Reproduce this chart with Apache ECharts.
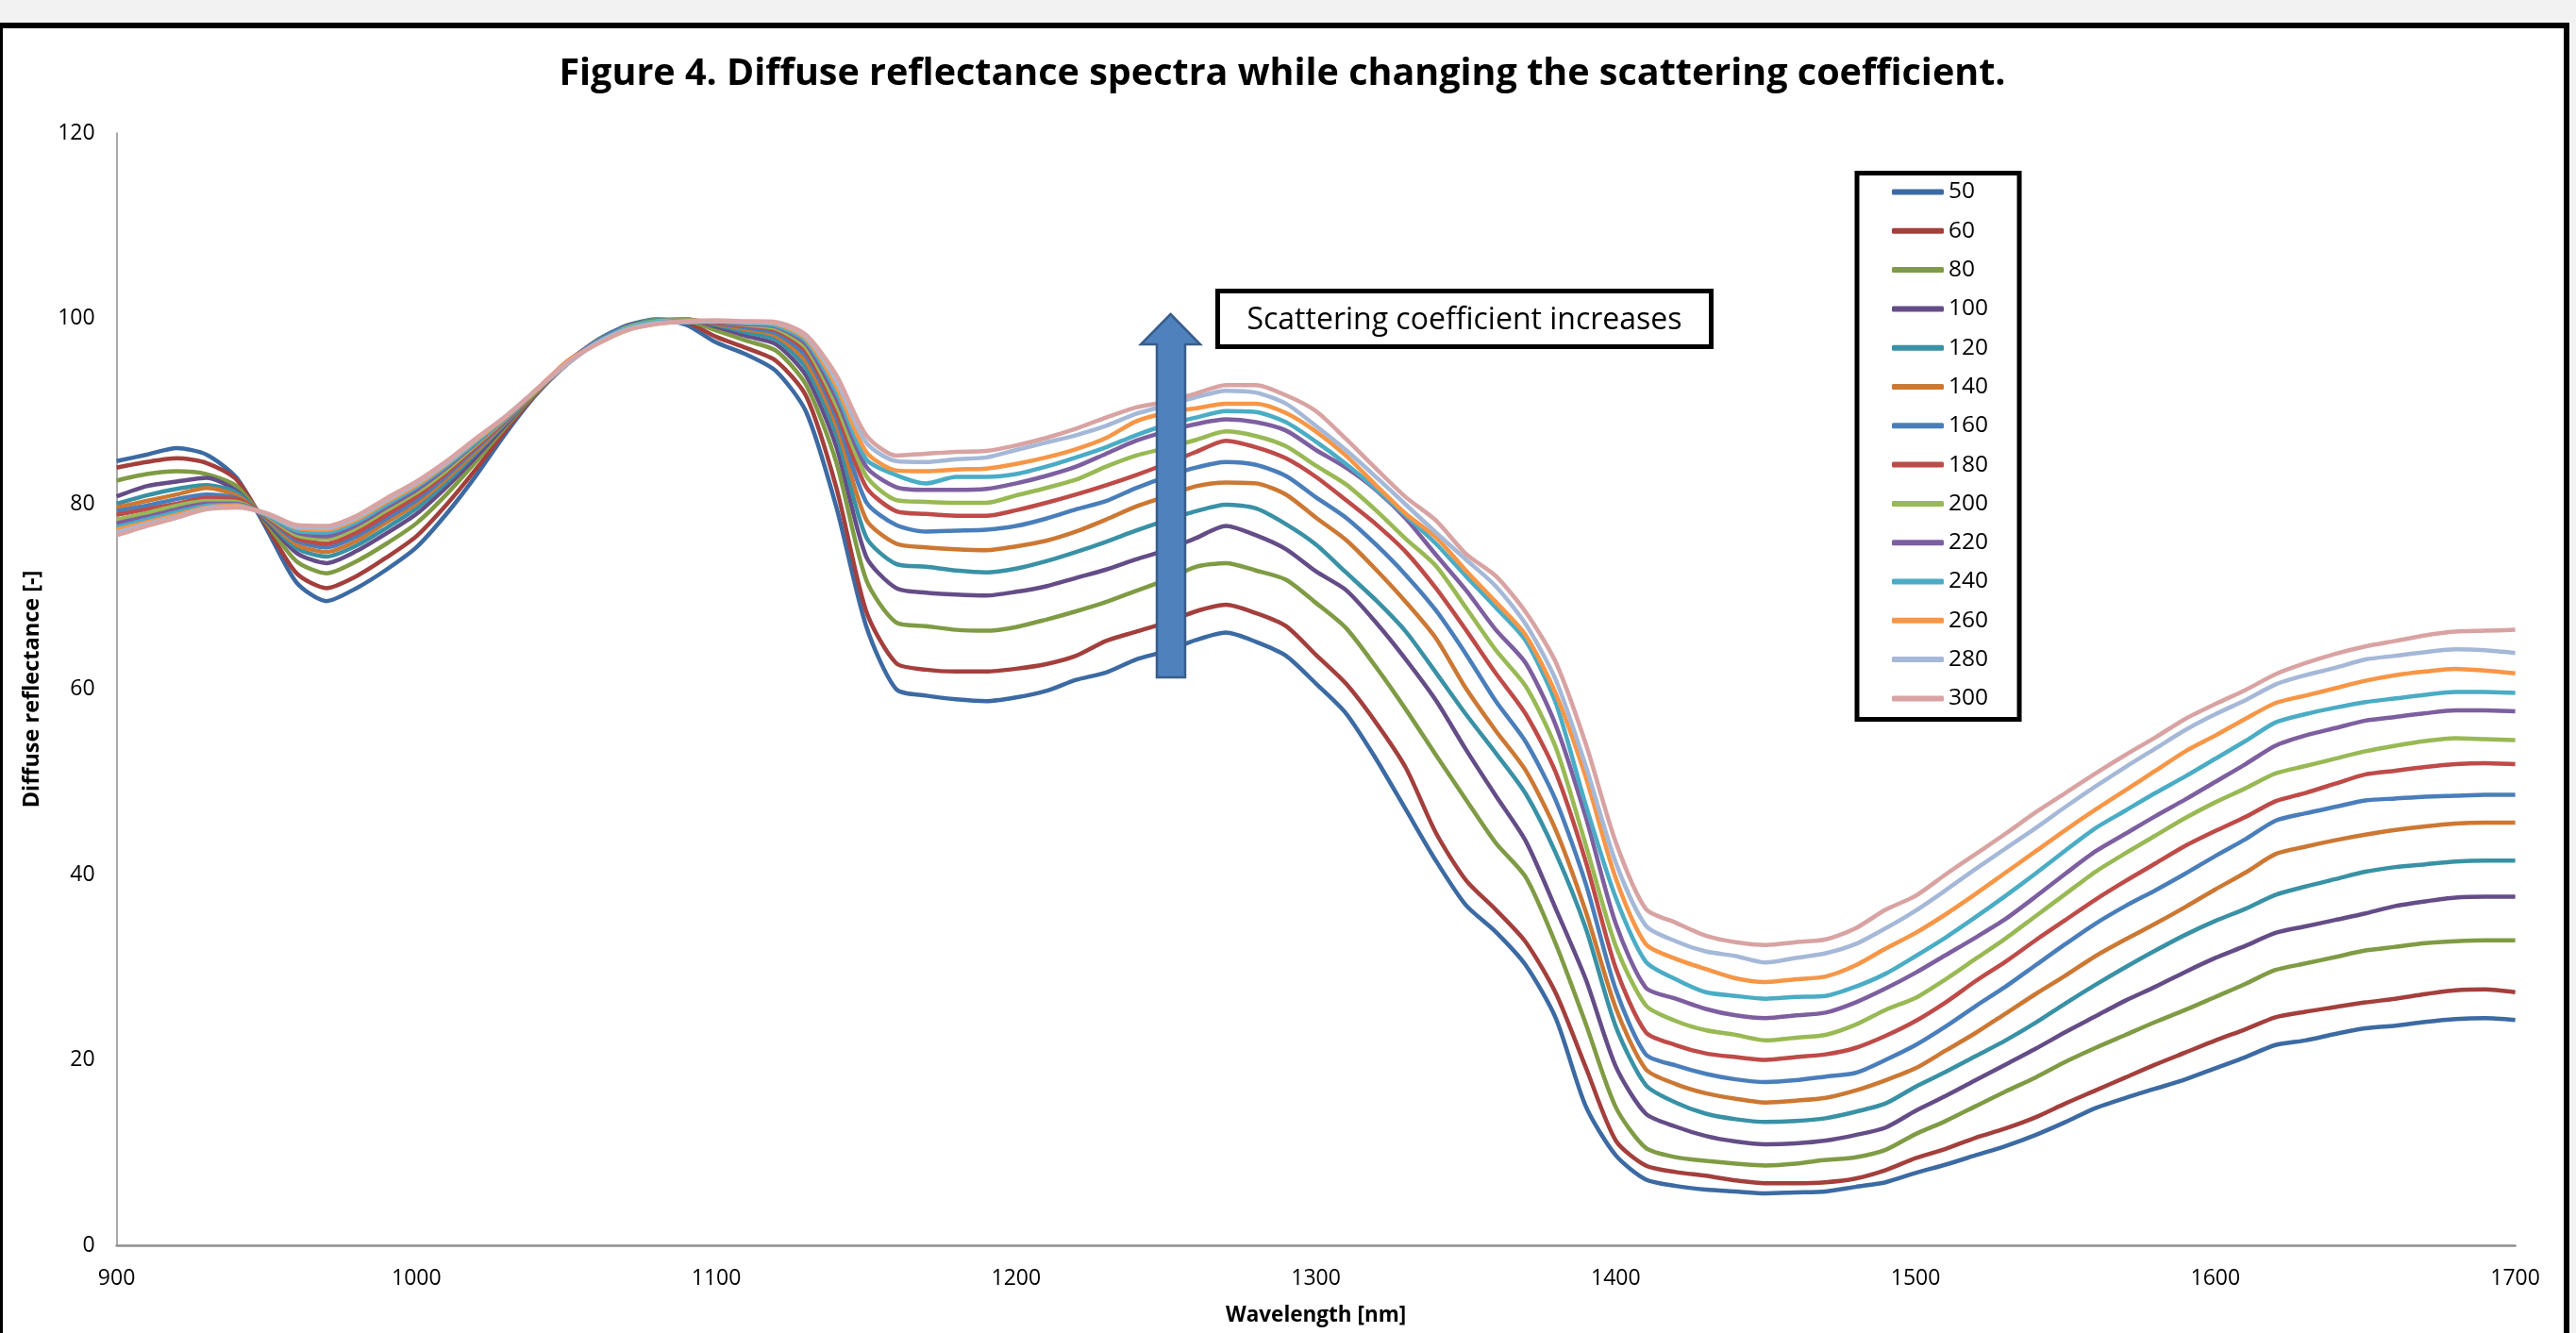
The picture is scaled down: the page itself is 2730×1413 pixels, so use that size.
<!DOCTYPE html>
<html><head><meta charset="utf-8">
<script src="https://cdn.jsdelivr.net/npm/echarts/dist/echarts.min.js"></script>
<style>
html,body{margin:0;padding:0;background:#f2f2f2;width:2730px;height:1413px;overflow:hidden;}
#frame{position:absolute;left:-3px;top:24px;width:2714px;height:1500px;border:6px solid #000;background:#fff;}
#chart{position:absolute;left:0;top:0;width:2730px;height:1413px;}
</style></head><body>
<div id="frame"></div><div id="chart"></div>
<script>
const wavelengths = [900,910,920,930,940,950,960,970,980,990,
1000,1010,1020,1030,1040,1050,1060,1070,1080,1090,
1100,1110,1120,1130,1140,1150,1160,1170,1180,1190,
1200,1210,1220,1230,1240,1250,1260,1270,1280,1290,
1300,1310,1320,1330,1340,1350,1360,1370,1380,1390,
1400,1410,1420,1430,1440,1450,1460,1470,1480,1490,
1500,1510,1520,1530,1540,1550,1560,1570,1580,1590,
1600,1610,1620,1630,1640,1650,1660,1670,1680,1690,1700];

const seriesNames = ['50','60','80','100','120','140','160','180','200','220','240','260','280','300'];

const s50 = [84.6,85.3,86.0,85.3,82.8,77.3,71.5,69.5,70.9,72.9,
75.3,78.9,83.1,87.7,91.8,95.0,97.6,99.2,99.9,99.3,
97.4,96.1,94.3,89.9,79.7,66.8,60.0,59.3,58.9,58.7,
59.1,59.8,61.0,61.8,63.2,64.1,65.3,66.1,65.1,63.6,
60.6,57.4,52.5,47.0,41.5,36.7,33.8,30.2,24.5,15.0,
9.7,7.1,6.4,6.0,5.8,5.6,5.7,5.8,6.3,6.8,
7.8,8.7,9.7,10.7,11.9,13.3,14.8,15.9,16.9,17.9,
19.1,20.3,21.6,22.1,22.8,23.4,23.7,24.1,24.4,24.5,24.3];
const s60 = [83.9,84.5,84.9,84.4,82.6,77.6,72.5,70.9,72.2,74.2,
76.5,79.9,83.8,88.0,91.9,95.1,97.5,99.1,99.8,99.6,
98.0,96.8,95.4,91.6,81.8,68.4,62.8,62.1,61.9,61.9,
62.2,62.7,63.6,65.2,66.2,67.2,68.4,69.1,68.2,66.8,
63.7,60.6,56.4,51.5,44.5,39.4,36.2,32.7,27.2,19.2,
11.3,8.6,7.9,7.5,7.0,6.7,6.7,6.8,7.2,8.1,
9.4,10.4,11.6,12.6,13.8,15.3,16.7,18.1,19.5,20.8,
22.1,23.3,24.6,25.2,25.7,26.2,26.6,27.1,27.5,27.6,27.3];
const s80 = [82.5,83.2,83.5,83.2,81.9,77.9,73.8,72.5,73.8,75.7,
77.9,81.0,84.6,88.4,92.0,95.0,97.6,99.0,99.9,99.8,
98.7,97.6,96.5,92.8,84.5,71.8,67.2,66.8,66.4,66.3,
66.7,67.5,68.4,69.4,70.6,71.8,73.2,73.6,72.8,71.8,
69.3,66.6,62.4,57.8,52.9,48.1,43.4,39.7,32.5,23.9,
14.9,10.5,9.5,9.1,8.8,8.6,8.8,9.2,9.5,10.3,
12.0,13.4,15.0,16.6,18.1,19.8,21.3,22.7,24.1,25.4,
26.8,28.2,29.7,30.4,31.1,31.8,32.2,32.6,32.8,32.9,32.9];
const s100 = [80.8,81.9,82.4,82.8,81.4,78.1,74.7,73.6,74.9,76.8,
78.9,81.8,85.1,88.6,92.1,95.2,97.4,99.2,99.7,99.9,
99.1,98.1,97.2,93.8,86.2,74.3,70.9,70.4,70.2,70.1,
70.5,71.1,72.0,72.9,74.0,75.0,76.3,77.6,76.6,75.1,
72.7,70.7,67.2,63.2,58.8,53.5,48.5,43.6,36.3,28.7,
19.3,14.2,12.8,11.8,11.2,10.9,11.0,11.3,11.9,12.7,
14.5,16.1,17.8,19.5,21.2,23.0,24.7,26.4,27.9,29.5,
31.0,32.3,33.7,34.4,35.1,35.8,36.6,37.1,37.5,37.6,37.6];
const s120 = [80.0,80.9,81.6,82.0,81.2,78.3,75.2,74.3,75.5,77.4,
79.5,82.3,85.5,88.8,92.1,95.1,97.5,99.0,99.8,99.8,
99.3,98.5,97.7,94.6,87.5,76.4,73.5,73.2,72.8,72.6,
73.0,73.8,74.8,75.9,77.1,78.2,79.2,79.9,79.5,77.8,
75.6,72.6,69.6,66.2,61.8,57.3,53.1,48.7,42.3,34.2,
23.6,17.3,15.4,14.2,13.6,13.3,13.4,13.7,14.4,15.3,
17.1,18.7,20.4,22.1,24.0,26.1,28.1,30.0,31.8,33.5,
35.0,36.3,37.8,38.7,39.5,40.3,40.8,41.1,41.4,41.5,41.5];
const s140 = [79.6,80.3,81.0,81.7,80.9,78.4,75.6,74.8,76.0,78.0,
80.0,82.7,85.7,88.9,92.1,95.3,97.3,98.9,99.6,99.9,
99.4,98.8,98.1,95.3,88.5,78.3,75.7,75.3,75.1,75.0,
75.4,76.0,77.0,78.3,79.7,80.8,81.9,82.3,82.2,81.0,
78.5,76.1,72.9,69.4,65.5,60.1,55.5,51.2,44.8,36.0,
25.6,19.0,17.4,16.4,15.8,15.4,15.6,15.9,16.7,17.8,
19.1,21.0,22.9,25.0,27.1,29.1,31.2,33.0,34.7,36.5,
38.4,40.2,42.2,43.0,43.7,44.3,44.8,45.2,45.5,45.6,45.6];
const s160 = [79.2,79.8,80.5,81.0,80.6,78.5,76.0,75.3,76.5,78.4,
80.4,83.0,86.0,89.0,92.2,95.2,97.5,99.1,99.7,99.8,
99.5,99.0,98.4,95.9,89.3,80.2,77.7,77.0,77.1,77.2,
77.6,78.4,79.4,80.3,81.7,82.9,83.9,84.5,84.2,83.0,
80.7,78.5,75.6,72.3,68.5,63.8,58.7,54.3,48.0,39.0,
27.6,20.6,19.4,18.5,17.9,17.6,17.8,18.2,18.6,20.0,
21.6,23.6,25.8,27.9,30.2,32.5,34.7,36.6,38.3,40.1,
42.0,43.8,45.8,46.6,47.3,48.0,48.2,48.4,48.5,48.6,48.6];
const s180 = [78.8,79.4,80.0,80.6,80.5,78.6,76.3,75.7,76.9,78.8,
80.8,83.3,86.2,89.1,92.2,95.0,97.4,98.9,99.6,99.7,
99.5,99.2,98.7,96.4,90.0,81.8,79.2,78.9,78.7,78.7,
79.3,80.1,81.0,82.0,83.1,84.3,85.6,86.8,86.1,84.9,
82.9,80.4,77.8,74.8,70.9,66.4,61.7,57.3,51.0,41.4,
29.9,23.0,21.6,20.7,20.3,20.0,20.3,20.6,21.3,22.6,
24.2,26.2,28.5,30.6,32.9,35.1,37.3,39.3,41.2,43.1,
44.7,46.2,47.9,48.8,49.8,50.8,51.2,51.6,51.9,52.0,51.9];
const s200 = [78.3,79.0,79.8,80.3,80.2,78.7,76.6,76.2,77.4,79.3,
81.2,83.6,86.4,89.2,92.2,95.3,97.3,99.0,99.7,99.8,
99.6,99.3,98.9,96.8,90.7,83.0,80.4,80.2,80.1,80.1,
80.9,81.7,82.6,84.0,85.2,86.0,86.9,87.8,87.3,86.2,
84.1,82.1,79.3,76.2,73.3,68.8,64.2,60.3,53.7,43.2,
32.3,25.9,24.2,23.2,22.7,22.1,22.4,22.7,23.8,25.4,
26.7,28.7,30.9,33.1,35.5,37.9,40.3,42.3,44.2,46.1,
47.8,49.3,50.9,51.7,52.5,53.3,53.9,54.4,54.7,54.6,54.5];
const s220 = [77.9,78.6,79.4,80.0,80.0,78.8,76.9,76.5,77.7,79.6,
81.5,83.9,86.6,89.3,92.3,95.2,97.5,98.8,99.5,99.7,
99.6,99.4,99.1,97.2,91.4,84.0,81.8,81.5,81.5,81.6,
82.2,83.0,84.0,85.4,86.8,87.8,88.6,89.1,88.8,87.9,
85.8,83.9,81.5,78.4,74.5,70.7,66.4,62.8,56.1,46.2,
34.7,27.8,26.6,25.5,24.8,24.5,24.8,25.1,26.2,27.7,
29.4,31.3,33.2,35.2,37.6,40.1,42.5,44.4,46.3,48.1,
50.0,51.9,53.9,55.0,55.8,56.6,57.0,57.4,57.7,57.7,57.6];
const s240 = [77.5,78.3,79.1,79.8,79.9,78.8,77.1,76.9,78.0,79.9,
81.8,84.1,86.7,89.3,92.3,95.1,97.4,98.9,99.6,99.6,
99.7,99.5,99.2,97.5,92.1,84.8,83.1,82.2,82.9,82.9,
83.2,84.0,85.0,86.1,87.4,88.5,89.3,90.0,89.9,88.8,
86.7,84.3,81.6,78.7,75.7,72.2,68.8,65.2,58.5,47.5,
37.5,30.6,28.7,27.3,26.9,26.6,26.8,26.9,27.9,29.3,
31.2,33.2,35.4,37.7,40.1,42.6,45.0,46.9,48.8,50.6,
52.5,54.4,56.4,57.3,58.0,58.6,59.0,59.4,59.7,59.7,59.6];
const s260 = [77.2,78.0,78.8,79.6,79.8,78.9,77.4,77.2,78.3,80.2,
82.0,84.3,86.9,89.4,92.3,95.3,97.2,98.7,99.4,99.7,
99.7,99.6,99.4,97.8,92.7,85.6,83.6,83.5,83.7,83.8,
84.3,85.0,85.9,87.1,88.9,89.8,90.3,90.8,90.8,89.8,
87.8,85.2,82.0,78.9,76.4,72.8,69.4,65.8,59.5,50.5,
39.6,32.5,30.9,29.8,28.8,28.4,28.7,29.0,30.2,32.0,
33.7,35.7,37.9,40.2,42.5,44.8,47.0,49.1,51.2,53.3,
55.0,56.8,58.5,59.3,60.1,60.9,61.5,61.9,62.2,62.0,61.7];
const s280 = [76.9,77.8,78.6,79.5,79.7,78.9,77.5,77.4,78.5,80.4,
82.2,84.4,87.0,89.5,92.3,95.0,97.3,98.8,99.5,99.6,
99.7,99.6,99.5,98.0,93.3,86.6,84.6,84.5,84.8,85.0,
85.8,86.6,87.4,88.4,89.7,90.6,91.5,92.2,92.0,90.8,
88.4,85.8,82.9,79.9,76.9,74.0,71.1,67.0,61.0,51.7,
41.3,34.5,32.8,31.7,31.2,30.5,31.0,31.5,32.5,34.2,
36.1,38.3,40.6,42.8,45.0,47.3,49.5,51.6,53.6,55.6,
57.3,58.8,60.5,61.5,62.3,63.2,63.6,64.0,64.3,64.2,63.9];
const s300 = [76.6,77.6,78.5,79.4,79.6,79.0,77.7,77.6,78.7,80.6,
82.4,84.6,87.1,89.5,92.3,95.2,97.2,98.7,99.4,99.7,
99.8,99.7,99.6,98.2,93.9,87.4,85.2,85.4,85.6,85.7,
86.3,87.1,88.1,89.3,90.4,91.0,91.9,92.8,92.8,91.7,
90.0,87.0,83.8,80.7,78.2,74.6,72.2,68.3,62.9,54.1,
43.5,36.3,34.8,33.4,32.7,32.4,32.7,33.0,34.2,36.2,
37.7,40.0,42.2,44.4,46.7,48.8,50.9,52.9,54.8,56.8,
58.4,59.9,61.6,62.8,63.8,64.6,65.2,65.8,66.2,66.3,66.4];

const seriesValues = [s50,s60,s80,s100,s120,s140,s160,s180,s200,s220,s240,s260,s280,s300];
const colors = ['#3C6AA3','#A33F3C','#7F9B44','#644D87','#3991A5','#CC7833','#4A7EBB',
                '#BE4B48','#98B954','#7D5FA0','#4AACC5','#F79646','#A5B8D8','#D8A3A2'];

const FONT = '"Open Sans", "Noto Sans", sans-serif';
const chart = echarts.init(document.getElementById('chart'), null, {renderer:'canvas'});

const option = {
  animation: false,
  backgroundColor: 'transparent',
  title: {
    text: 'Figure 4. Diffuse reflectance spectra while changing the scattering coefficient.',
    left: 1359, top: 79, padding: 0,
    textAlign: 'center', textVerticalAlign: 'middle',
    textStyle: {fontFamily: FONT, fontWeight: 'bold', fontSize: 39.5, color: '#000'}
  },
  grid: {left: 123.6, right: 64.4, top: 141, bottom: 93, containLabel: false, outerBoundsMode: 'none'},
  legend: {
    orient: 'vertical', left: 1968, top: 183.5,
    padding: [7, 33, 9, 37],
    itemWidth: 55, itemHeight: 6, itemGap: 15.3, icon: 'roundRect',
    backgroundColor: '#fff', borderColor: '#000', borderWidth: 5, borderRadius: 0,
    textStyle: {fontFamily: FONT, fontSize: 24.5, color: '#000', lineHeight: 26},
    data: seriesNames, selectedMode: false
  },
  xAxis: {
    type: 'value', min: 900, max: 1700, interval: 100,
    name: 'Wavelength [nm]', nameLocation: 'middle', nameGap: 63,
    nameTextStyle: {fontFamily: FONT, fontWeight: 'bold', fontSize: 22.5, color: '#000'},
    axisLine: {show: true, onZero: false, lineStyle: {color: '#8e8e8e', width: 2.5}},
    axisTick: {show: false}, splitLine: {show: false},
    axisLabel: {fontFamily: FONT, fontSize: 23, color: '#000', margin: 24,
                formatter: function (v) { return String(v); }}
  },
  yAxis: {
    type: 'value', min: 0, max: 120, interval: 20,
    name: 'Diffuse reflectance [-]', nameLocation: 'middle', nameGap: 77, nameRotate: 90,
    nameTextStyle: {fontFamily: FONT, fontWeight: 'bold', fontSize: 23.5, color: '#000'},
    axisLine: {show: true, lineStyle: {color: '#8e8e8e', width: 1.5}},
    axisTick: {show: false}, splitLine: {show: false},
    axisLabel: {fontFamily: FONT, fontSize: 23, color: '#000', margin: 23}
  },
  graphic: [
    {type: 'polygon', z: 100,
     shape: {points: [[1240.5,333],[1272,365],[1256,365],[1256,718],[1226,718],[1226,365],[1209,365]]},
     style: {fill: '#4F81BD', stroke: '#385D8A', lineWidth: 2.5}},
    {type: 'rect', z: 100, shape: {x: 1290.5, y: 308.5, width: 523, height: 59},
     style: {fill: '#fff', stroke: '#000', lineWidth: 5}},
    {type: 'text', z: 101, x: 1552, y: 340,
     style: {text: 'Scattering coefficient increases', font: '32px ' + FONT, fill: '#000',
             align: 'center', verticalAlign: 'middle'}}
  ],
  series: seriesNames.map((n, i) => ({
    name: n, type: 'line',
    data: wavelengths.map((w, j) => [w, seriesValues[i][j]]),
    showSymbol: false, symbol: 'none', smooth: 0.25,
    lineStyle: {width: 4.5, color: colors[i]},
    itemStyle: {color: colors[i]},
    emphasis: {disabled: true}
  }))
};
chart.setOption(option);
</script>
</body></html>
